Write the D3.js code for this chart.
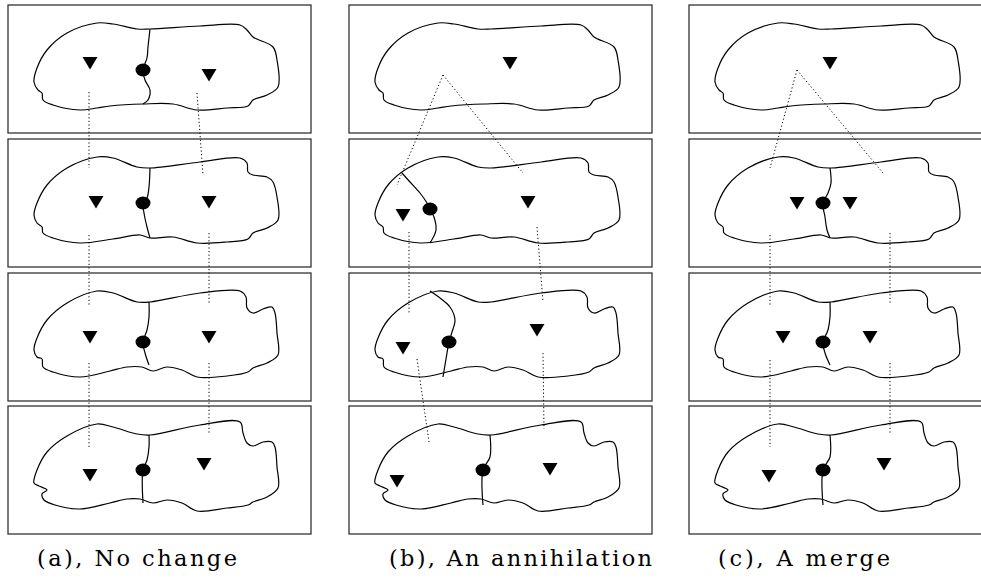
<!DOCTYPE html>
<html>
  <head>
    <title>Ridge evolution: no change, annihilation, merge</title>
    <script src="https://d3js.org/d3.v7.min.js"></script>
    <style>
      body { margin: 0; background: #fff; }
    </style>
  </head>
  <body>
    <div id="figure"></div>
    <script>
      // panel layout (columns a, b, c and the four time steps)
      var columnLefts = [8, 349, 689];
      var rowTops = [5, 139, 273, 406];
      var boxW = 303, boxH = 128;

      var captions = ["(a), No change", "(b), An annihilation", "(c), A merge"];
      var captionX = [37, 389, 718];
      var captionW = [200, 263, 172];

      // blob outline for each time step, box-local points
      var blob0 = [[26,77],[29,63],[39,45],[59,28],[89,18],[105,19],[129,24],[142,24],[192,21],[232,20],[239,25],[245,32],[265,42],[269,55],[270,82],[259,90],[245,95],[240,101],[219,103],[189,105],[165,99],[135,99],[102,101],[89,103],[72,105],[45,100],[35,95],[34,88],[30,85]];
      var blob1 = [[26,76],[29,64],[39,46],[59,29],[89,18],[105,19],[129,28],[142,29],[192,23],[232,19],[239,24],[240,33],[245,36],[259,38],[265,43],[269,58],[270,81],[259,89],[245,94],[240,100],[219,103],[189,104],[165,98],[142,99],[132,96],[105,100],[72,104],[45,99],[35,94],[34,88],[29,84]];
      var blob2 = [[26,77],[29,65],[39,47],[59,30],[89,18],[105,20],[129,29],[142,29],[192,20],[232,18],[238,24],[239,35],[245,40],[255,36],[264,34],[267,40],[269,60],[270,82],[259,90],[245,95],[240,99],[219,103],[189,104],[174,97],[159,94],[145,98],[134,94],[119,94],[102,98],[72,104],[45,99],[35,94],[34,86],[29,84]];
      var blob3 = [[26,77],[29,64],[39,46],[59,30],[89,18],[105,21],[129,28],[142,29],[192,19],[232,16],[235,27],[239,37],[245,40],[255,36],[264,36],[267,41],[269,61],[270,82],[259,91],[245,96],[240,99],[219,102],[189,105],[174,97],[159,94],[145,97],[132,93],[119,93],[102,97],[72,103],[47,99],[36,94],[34,88],[39,84],[31,80]];
      var blobs = [blob0, blob1, blob2, blob3];

      // ridge lines: [column, row, points]
      var ridges = [
        [0, 0, [[142,24],[140,42],[139,53],[135,65],[137,75],[142,85],[140,95],[135,99]]],
        [0, 1, [[142,29],[141,48],[139,59],[135,64],[136,74],[139,88],[142,99]]],
        [0, 2, [[141,29],[141,44],[139,57],[135,69],[137,80],[141,92]]],
        [0, 3, [[141,29],[141,41],[139,54],[135,64],[135,97]]],
        [1, 1, [[53,34],[61,43],[71,54],[78,64],[81,70],[85,78],[87,91],[81,104]]],
        [1, 2, [[81,18],[91,25],[101,34],[106,47],[103,59],[100,69],[98,80],[94,104]]],
        [1, 3, [[141,29],[141,51],[134,64],[134,99]]],
        [2, 1, [[141,29],[142,44],[139,54],[134,64],[136,78],[138,91],[141,99]]],
        [2, 2, [[141,29],[141,44],[139,57],[134,69],[136,80],[141,92]]],
        [2, 3, [[141,29],[141,51],[134,64],[134,99]]]
      ];

      // minima (triangles): [column, row, x, y]
      var minima = [
        [0,0,82,58],[0,0,201,70],[0,1,88,63],[0,1,201,63],[0,2,82,64],[0,2,201,64],[0,3,82,69],[0,3,196,58],
        [1,0,161,58],[1,1,54,76],[1,1,179,63],[1,2,54,75],[1,2,188,57],[1,3,48,75],[1,3,201,63],
        [2,0,141,58],[2,1,108,64],[2,1,161,64],[2,2,94,64],[2,2,181,64],[2,3,80,70],[2,3,195,58]
      ];

      // saddles (dots): [column, row, x, y]
      var saddles = [
        [0,0,135,65],[0,1,135,64],[0,2,135,69],[0,3,135,64],
        [1,1,81,70],[1,2,100,69],[1,3,134,64],
        [2,1,134,64],[2,2,134,69],[2,3,134,64]
      ];

      // dotted tracking links: [column, fromRow, x, y, toRow, x, y]
      var links = [
        [0,0,81,87,1,81,29],[0,0,189,88,1,195,36],
        [0,1,81,96,2,81,34],[0,1,201,94,2,201,32],
        [0,2,81,90,3,81,41],[0,2,201,90,3,201,29],
        [1,0,94,70,1,48,46],[1,0,94,70,1,174,34],
        [1,1,60,93,2,60,40],[1,1,188,88,2,194,29],
        [1,2,68,86,3,80,36],[1,2,194,80,3,195,23],
        [2,0,108,65,1,81,29],[2,0,108,65,1,194,34],
        [2,1,81,96,2,81,34],[2,1,201,94,2,201,32],
        [2,2,81,87,3,81,41],[2,2,201,90,3,201,29]
      ];

      var svg = d3.select("#figure").append("svg")
        .attr("width", 981)
        .attr("height", 580);

      var xs = columnLefts.map(function (l) {
        return d3.scaleLinear().domain([0, boxW]).range([l, l + boxW]);
      });
      var ys = rowTops.map(function (t) {
        return d3.scaleLinear().domain([0, boxH]).range([t, t + boxH]);
      });

      var panels = [];
      columnLefts.forEach(function (l, c) {
        rowTops.forEach(function (t, r) { panels.push({ c: c, r: r }); });
      });

      // boxes
      svg.append("g").selectAll("rect")
        .data(panels).enter().append("rect")
        .attr("x", function (d) { return xs[d.c](0); })
        .attr("y", function (d) { return ys[d.r](0); })
        .attr("width", boxW)
        .attr("height", boxH)
        .attr("fill", "none")
        .attr("stroke", "#333")
        .attr("stroke-width", 1.3);

      // blob outlines
      var outlineLine = d3.line().curve(d3.curveCatmullRomClosed.alpha(0.5));
      svg.append("g").selectAll("path")
        .data(panels).enter().append("path")
        .attr("d", function (d) {
          return outlineLine(blobs[d.r].map(function (p) { return [xs[d.c](p[0]), ys[d.r](p[1])]; }));
        })
        .attr("fill", "none")
        .attr("stroke", "#000")
        .attr("stroke-width", 1.2);

      // ridges
      var ridgeLine = d3.line().curve(d3.curveCatmullRom.alpha(0.5));
      svg.append("g").selectAll("path")
        .data(ridges).enter().append("path")
        .attr("d", function (d) {
          return ridgeLine(d[2].map(function (p) { return [xs[d[0]](p[0]), ys[d[1]](p[1])]; }));
        })
        .attr("fill", "none")
        .attr("stroke", "#000")
        .attr("stroke-width", 1.2);

      // dotted links
      svg.append("g").selectAll("line")
        .data(links).enter().append("line")
        .attr("x1", function (d) { return xs[d[0]](d[2]); })
        .attr("y1", function (d) { return ys[d[1]](d[3]); })
        .attr("x2", function (d) { return xs[d[0]](d[5]); })
        .attr("y2", function (d) { return ys[d[4]](d[6]); })
        .attr("stroke", "#000")
        .attr("stroke-width", 1)
        .attr("stroke-dasharray", "1.2,2.4");

      // minima triangles
      svg.append("g").selectAll("path")
        .data(minima).enter().append("path")
        .attr("transform", function (d) {
          return "translate(" + xs[d[0]](d[2]) + "," + ys[d[1]](d[3]) + ")";
        })
        .attr("d", "M-7.5,-6L7.5,-6L0,6.5Z")
        .attr("fill", "#000");

      // saddle dots
      svg.append("g").selectAll("ellipse")
        .data(saddles).enter().append("ellipse")
        .attr("cx", function (d) { return xs[d[0]](d[2]); })
        .attr("cy", function (d) { return ys[d[1]](d[3]); })
        .attr("rx", 7.5)
        .attr("ry", 6.5)
        .attr("fill", "#000");

      // captions
      svg.append("g").selectAll("text")
        .data(captions).enter().append("text")
        .text(function (d) { return d; })
        .attr("x", function (d, i) { return captionX[i]; })
        .attr("y", 566)
        .attr("textLength", function (d, i) { return captionW[i]; })
        .attr("lengthAdjust", "spacing")
        .attr("font-family", "'DejaVu Serif', 'Liberation Serif', serif")
        .attr("font-size", "22.5px")
        .attr("fill", "#000");
    </script>
  </body>
</html>
